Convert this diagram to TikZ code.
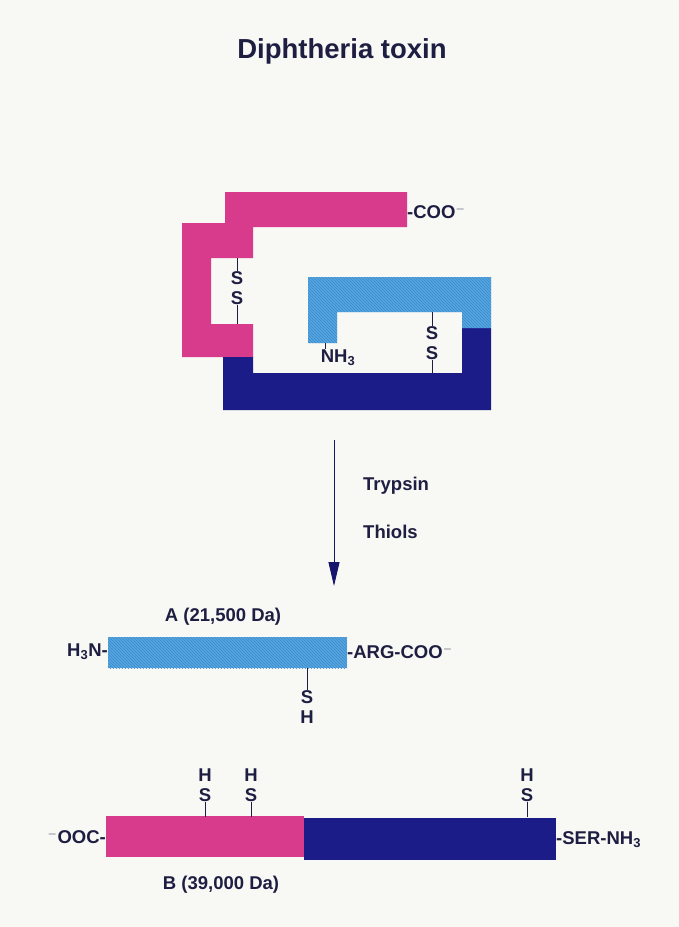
\documentclass[tikz,border=0pt]{standalone}
\usepackage{fontspec}
\setmainfont{Liberation Sans}
\usetikzlibrary{positioning, patterns, arrows.meta}
\definecolor{toxpink}{HTML}{D83A8C}
\definecolor{toxnavy}{HTML}{1C1C88}
\definecolor{toxsky}{HTML}{52A8E0}
\definecolor{toxink}{HTML}{1E1E42}
\definecolor{toxpaper}{HTML}{F8F8F5}
\tikzset{
  lbl/.style    = {font=\bfseries\fontsize{18.5}{18.5}\selectfont, text=toxink, inner sep=0pt},
  bond/.style   = {draw=toxink, line width=0.9pt},
  hatched/.style= {fill=toxsky, postaction={pattern=north west lines, pattern color=toxsky!75!toxnavy}},
}

\begin{document}
\begin{tikzpicture}[x=1pt, y=-1pt]
    \fill[toxpaper] (0,0) rectangle (679,927);
    \useasboundingbox (0,0) rectangle (679,927);

    \node (title) at (342,51) [lbl, font=\bfseries\fontsize{27.5}{27.5}\selectfont] {Diphtheria toxin};

    % folded toxin
    \fill[toxpink] (225,192) -- (407,192) -- (407,227) -- (253,227) -- (253,258) -- (211,258)
        -- (211,324) -- (253,324) -- (253,357) -- (182,357) -- (182,223) -- (225,223) -- cycle;
    \fill[toxnavy] (223,357) -- (253,357) -- (253,373) -- (462,373) -- (462,328) -- (491,328)
        -- (491,410) -- (223,410) -- cycle;
    \path[hatched] (308,277) -- (491,277) -- (491,328) -- (462,328) -- (462,312) -- (337,312)
        -- (337,343) -- (308,343) -- cycle;

    \node (coo)  at (407,212) [lbl, anchor=west] {-COO$^{-}$};
    \node (nh)   at (338,358) [lbl] {NH\textsubscript{3}};
    \coordinate (nhtop) at (325,343);
    \draw[bond] (nhtop) -- ++(0,6);

    \node (ps1) at (237,278) [lbl] {S};
    \node (ps2) at (237,298) [lbl] {S};
    \coordinate (pstop) at (237,258);
    \coordinate (psbot) at (237,324);
    \draw[bond] (pstop) -- (ps1.north);
    \draw[bond] (ps2.south) -- (psbot);

    \node (bs1) at (432,333) [lbl] {S};
    \node (bs2) at (432,353) [lbl] {S};
    \coordinate (bstop) at (432,312);
    \coordinate (bsbot) at (432,373);
    \draw[bond] (bstop) -- (bs1.north);
    \draw[bond] (bs2.south) -- (bsbot);

    % cleavage
    \coordinate (arrtop) at (334,440);
    \coordinate (arrbot) at (334,586);
    \draw[toxnavy!80!black, line width=1pt, -{Triangle[length=24pt, width=11pt]}] (arrtop) -- (arrbot);
    \node (tryp) at (363,486) [lbl, anchor=west] {Trypsin};
    \node (thio) at (363,532) [lbl, anchor=west] {Thiols};

    % fragment A
    \path[hatched] (108,637) rectangle (347,668);
    \node (fa)   at (223,617) [lbl] {A (21,500 Da)};
    \node (ahn)  at (108,652) [lbl, anchor=east] {H\textsubscript{3}N-};
    \node (aarg) at (347,652) [lbl, anchor=west] {-ARG-COO$^{-}$};
    \node (as)   at (307,697) [lbl] {S};
    \node (ah)   at (307,717) [lbl] {H};
    \coordinate (abar) at (307,668);
    \draw[bond] (abar) -- (as.north);

    % fragment B
    \fill[toxpink] (106,816) rectangle (304,857);
    \fill[toxnavy] (304,818) rectangle (556,860);
    \node (fb)   at (221,885) [lbl] {B (39,000 Da)};
    \node (booc) at (106,837) [lbl, anchor=east] {$^{-}$OOC-};
    \node (bser) at (556,840) [lbl, anchor=west] {-SER-NH\textsubscript{3}};
    \foreach \px/\nm in {205/b1, 251/b2, 527/b3} {
        \node (\nm h) at (\px,775) [lbl] {H};
        \node (\nm s) at (\px,795) [lbl] {S};
        \draw[bond] (\nm s.south) -- (\px,817);
    }
\end{tikzpicture}
\end{document}
